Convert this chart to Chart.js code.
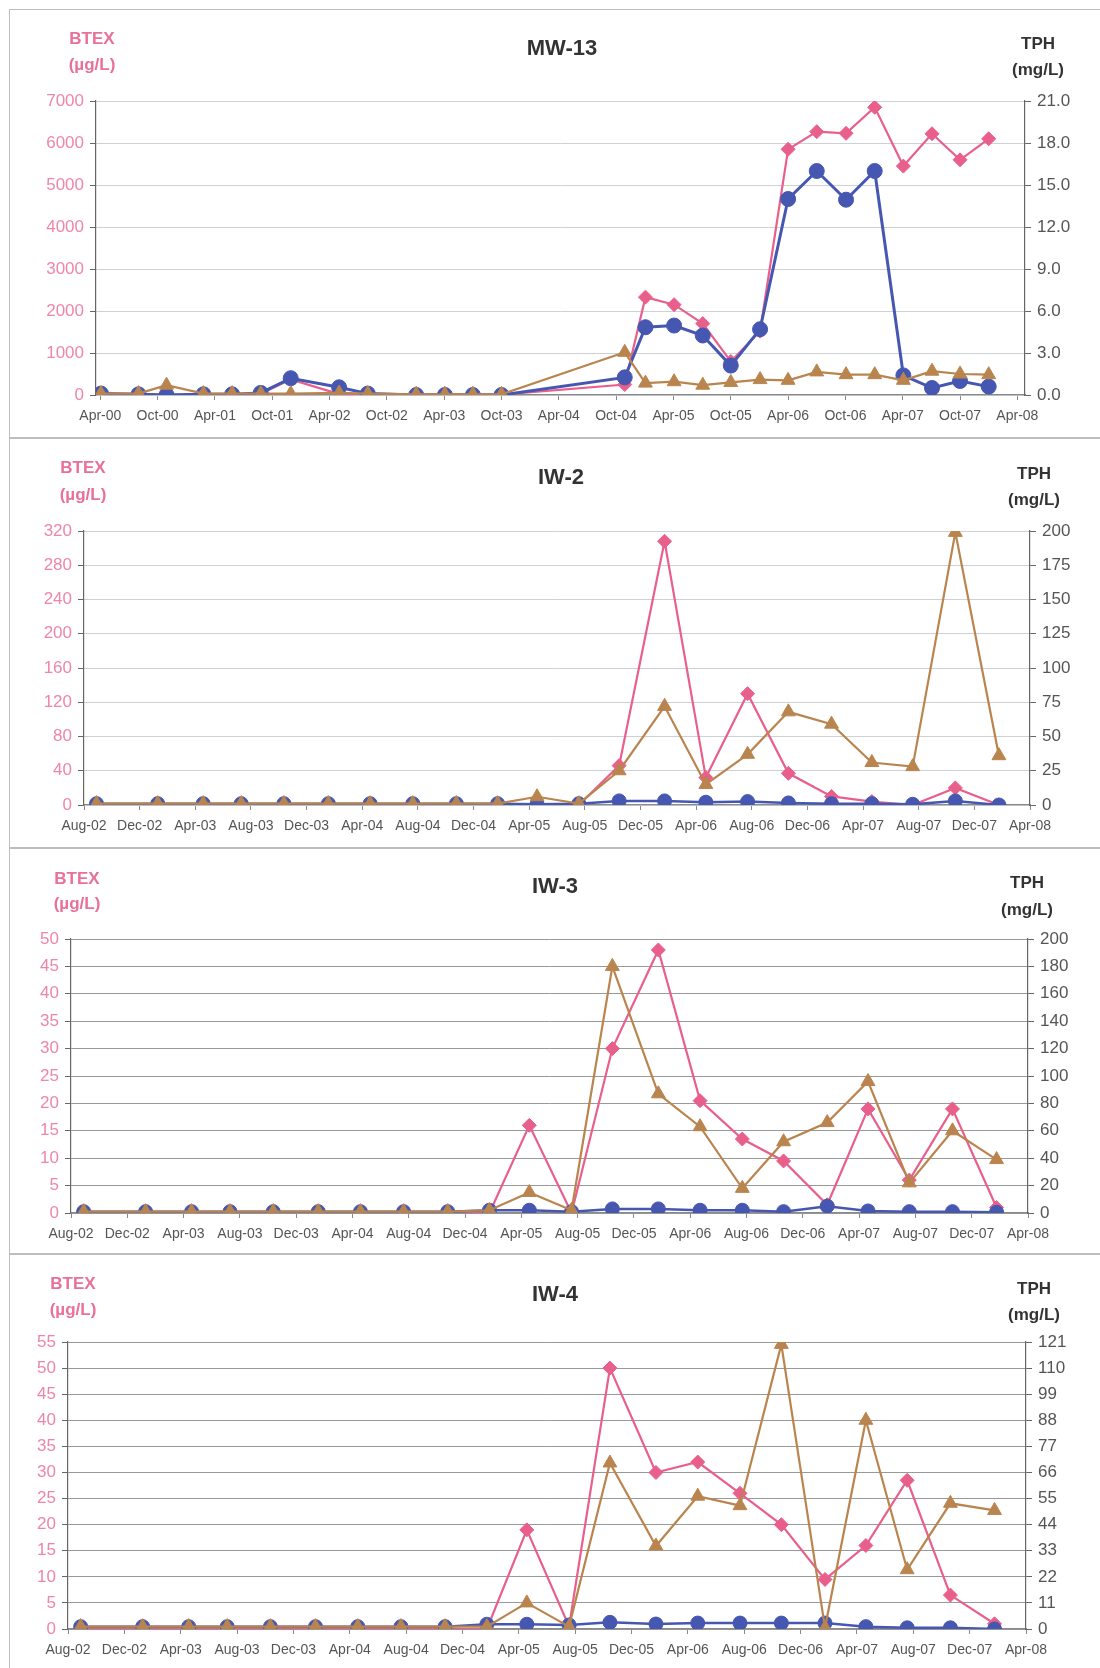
<!DOCTYPE html>
<html lang="en">
<head>
<meta charset="UTF-8">
<title>BTEX / TPH</title>
<script src="https://cdn.jsdelivr.net/npm/chart.js"></script>
<style>
  body { margin:0; background:#fff; width:1100px; height:1668px; position:relative; overflow:hidden;
         font-family:"Liberation Sans", Arial, sans-serif; }
  .box { position:absolute; left:9px; width:1100px; border:1.5px solid #bdbdbd; box-sizing:border-box; }
  canvas { position:absolute; left:0; }
  .lbl { position:absolute; transform:translate(-50%,-50%); font-weight:bold; white-space:nowrap; }
  .ttl { font-size:22px; color:#333; }
  .btex { font-size:17px; color:#E8709A; }
  .tph { font-size:17px; color:#333; }
</style>
</head>
<body>
<script>
    // sample dates
    var mwDates = ["2000-04-03","2000-08-01","2000-10-29","2001-02-25","2001-05-25","2001-08-25","2001-11-29",
        "2002-05-01","2002-08-01","2003-01-03","2003-04-03","2003-07-01","2003-10-01","2004-10-28",
        "2005-01-03","2005-04-03","2005-07-03","2005-10-01","2006-01-03","2006-04-01","2006-07-01",
        "2006-10-03","2007-01-03","2007-04-03","2007-07-03","2007-10-01","2008-01-01"]
    var iwDates = ["2002-08-28","2003-01-10","2003-04-18","2003-07-10","2003-10-12","2004-01-18",
        "2004-04-18","2004-07-20","2004-10-24","2005-01-23","2005-04-18","2005-07-18","2005-10-15",
        "2006-01-23","2006-04-22","2006-07-22","2006-10-20","2007-01-23","2007-04-20","2007-07-18",
        "2007-10-20","2008-01-24"]

    // x axis labels
    var mwTicks = ["Apr-00","Oct-00","Apr-01","Oct-01","Apr-02","Oct-02","Apr-03","Oct-03","Apr-04",
        "Oct-04","Apr-05","Oct-05","Apr-06","Oct-06","Apr-07","Oct-07","Apr-08"]
    var iwTicks = ["Aug-02","Dec-02","Apr-03","Aug-03","Dec-03","Apr-04","Aug-04","Dec-04","Apr-05",
        "Aug-05","Dec-05","Apr-06","Aug-06","Dec-06","Apr-07","Aug-07","Dec-07","Apr-08"]

    // MW-13  (BTEX ug/L, TPH mg/L)
    var mw13Btex = [20,10,10,10,10,30,370,20,20,10,10,10,10,250,2330,2150,1700,800,1520,
        5850,6270,6230,6850,5450,6220,5600,6100]
    var mw13Gro = [0.1,0.05,0,0.05,0.05,0.15,1.2,0.55,0.1,0,0,0,0,1.26,4.84,4.96,4.25,2.1,4.7,
        14.0,16.0,13.95,16.0,1.4,0.5,1.0,0.6]
    var mw13Dro = [0.1,0.1,0.7,0.1,0.1,0.1,0.1,0.15,0.1,0.05,0.05,0.05,0.05,3.05,0.85,0.95,0.7,0.9,
        1.1,1.05,1.65,1.45,1.45,1.05,1.7,1.5,1.45]

    // IW-2
    var iw2Btex = [1,0,0,0,0,0,0,0,0,0,0,0,46,308,32,130,37,10,4,0,20,0]
    var iw2Gro = [1,1,1,1,1,1,1,1,1,1,0.5,1,3,3,2,2.5,1.5,1,1,0.5,3,0]
    var iw2Dro = [1,1,1,1,1,1,1,1,1,1,6,1,25,72,15,37,68,59,31,28,199,36]

    // IW-3
    var iw3Btex = [0.2,0,0,0,0,0,0,0,0,0,16,0,30,48,20.5,13.5,9.5,1.5,19,6,19,1]
    var iw3Gro = [1,1,1,1,1,1,1,1,1,2,2,1,3,3,2,2,1,5,1.5,1,1,0.5]
    var iw3Dro = [1,1,1,1,1,1,1,1,1,2,15,2,180,87,63,18,52,66,96,22,60,39]

    // IW-4
    var iw4Btex = [0,0,0,0,0,0,0,0,0,0,19,0.5,50,30,32,26,20,9.5,16,28.5,6.5,1]
    var iw4Gro = [1,1,1,1,1,1,1,1,1,2,2,1.7,2.8,2.1,2.5,2.5,2.5,2.5,1,0.5,0.5,0]
    var iw4Dro = [1,1,1,1,1,1,1,1,1,1,11,1,70,35,56,52,120,0.5,88,25,53,50]

    var months = ["Jan","Feb","Mar","Apr","May","Jun","Jul","Aug","Sep","Oct","Nov","Dec"]
    function tickPos(lbl) { return +lbl.slice(4) * 12 + months.indexOf(lbl.slice(0, 3)) }
    function datePos(s) { var p = s.split("-"); return (p[0] - 2000) * 12 + (p[1] - 1) + (p[2] - 1) / 30 }
    function series(dates, vals) { return dates.map(function (d, i) { return {x: datePos(d), y: vals[i]} }) }

    var PINK = '#E95F8C', BLUE = '#4557B0', BROWN = '#BA844E'

    var panels = [
        {name:'MW-13', top:9, h:429, plotLeft:96, plotRight:1025, plotTop:101, plotBottom:395,
         dates:mwDates, ticks:mwTicks, xMin:2.55, xMax:99.8, btex:mw13Btex, gro:mw13Gro, dro:mw13Dro,
         lMax:7000, lStep:1000, rMax:21, rStep:3, rFix:1, grid:'#cdd0d6', r:7.5, bw:3,
         ttl:[562,48], bt:[92,39,65], tp:[1038,44,70]},
        {name:'IW-2', top:437, h:411, plotLeft:84, plotRight:1030, plotTop:531, plotBottom:805,
         dates:iwDates, ticks:iwTicks, xMin:31, xMax:99, btex:iw2Btex, gro:iw2Gro, dro:iw2Dro,
         lMax:320, lStep:40, rMax:200, rStep:25, rFix:0, grid:'#cdd0d6', r:7, bw:2.5,
         ttl:[561,477], bt:[83,468,495], tp:[1034,474,500]},
        {name:'IW-3', top:847, h:407, plotLeft:71, plotRight:1028, plotTop:939, plotBottom:1213,
         dates:iwDates, ticks:iwTicks, xMin:31, xMax:99, btex:iw3Btex, gro:iw3Gro, dro:iw3Dro,
         lMax:50, lStep:5, rMax:200, rStep:20, rFix:0, grid:'#999999', r:7, bw:2.5,
         ttl:[555,886], bt:[77,879,904], tp:[1027,883,910]},
        {name:'IW-4', top:1253, h:415, plotLeft:68, plotRight:1026, plotTop:1342, plotBottom:1629,
         dates:iwDates, ticks:iwTicks, xMin:31, xMax:99, btex:iw4Btex, gro:iw4Gro, dro:iw4Dro,
         lMax:55, lStep:5, rMax:121, rStep:11, rFix:0, grid:'#999999', r:7, bw:2.5,
         ttl:[555,1294], bt:[73,1284,1310], tp:[1034,1289,1315]}
    ]

    function label(txt, cls, x, y) {
        var d = document.createElement('div')
        d.className = 'lbl ' + cls
        d.textContent = txt
        d.style.left = x + 'px'
        d.style.top = y + 'px'
        document.body.appendChild(d)
    }

    function drawPanel(p) {
        var box = document.createElement('div')
        box.className = 'box'
        box.style.top = p.top + 'px'
        box.style.height = (p.h + 1) + 'px'
        document.body.appendChild(box)

        var cv = document.createElement('canvas')
        cv.width = 1100
        cv.height = p.h
        cv.style.top = p.top + 'px'
        document.body.appendChild(cv)

        label(p.name, 'ttl', p.ttl[0], p.ttl[1])
        label('BTEX', 'btex', p.bt[0], p.bt[1])
        label('(\u00b5g/L)', 'btex', p.bt[0], p.bt[2])
        label('TPH', 'tph', p.tp[0], p.tp[1])
        label('(mg/L)', 'tph', p.tp[0], p.tp[2])

        var tickVals = p.ticks.map(tickPos)
        var font = {family: '"Liberation Sans", Arial, sans-serif'}

        new Chart(cv, {
            type: 'line',
            data: {
                datasets: [
                    {label: 'BTEX', data: series(p.dates, p.btex), yAxisID: 'yL', order: 3,
                     borderColor: PINK, backgroundColor: PINK, borderWidth: 2.2,
                     pointStyle: 'rectRot', pointRadius: 7, pointBorderWidth: 1},
                    {label: 'TPH-GRO', data: series(p.dates, p.gro), yAxisID: 'yR', order: 2,
                     borderColor: BLUE, backgroundColor: BLUE, borderWidth: p.bw,
                     pointStyle: 'circle', pointRadius: p.r, pointBorderWidth: 1},
                    {label: 'TPH-DRO', data: series(p.dates, p.dro), yAxisID: 'yR', order: 1,
                     borderColor: BROWN, backgroundColor: BROWN, borderWidth: 2.2,
                     pointStyle: 'triangle', pointRadius: 8, pointBorderWidth: 1}
                ]
            },
            options: {
                responsive: false,
                animation: false,
                events: [],
                layout: {autoPadding: false, padding: {top: p.plotTop - p.top, left: 0, right: 0, bottom: 0}},
                plugins: {legend: {display: false}, tooltip: {enabled: false}},
                elements: {line: {tension: 0}},
                scales: {
                    x: {
                        type: 'linear', min: p.xMin, max: p.xMax,
                        afterBuildTicks: function (s) { s.ticks = tickVals.map(function (v) { return {value: v} }) },
                        afterFit: function (s) { s.height = p.h - (p.plotBottom - p.top) },
                        ticks: {autoSkip: false, maxRotation: 0, padding: 8, color: '#555',
                                font: Object.assign({size: 14}, font),
                                callback: function (v, i) { return p.ticks[i] }},
                        grid: {drawOnChartArea: false, tickLength: 5, color: '#8a8a8a'},
                        border: {color: '#8a8a8a', width: 1.2}
                    },
                    yL: {
                        position: 'left', min: 0, max: p.lMax,
                        afterFit: function (s) { s.width = p.plotLeft },
                        ticks: {stepSize: p.lStep, padding: 6, color: '#EE86A8',
                                font: Object.assign({size: 17}, font),
                                callback: function (v) { return String(v) }},
                        grid: {color: p.grid, lineWidth: 1, tickLength: 6, tickColor: '#666'},
                        border: {color: '#666', width: 1.2}
                    },
                    yR: {
                        position: 'right', min: 0, max: p.rMax,
                        afterFit: function (s) { s.width = 1100 - p.plotRight },
                        ticks: {stepSize: p.rStep, padding: 6, color: '#555',
                                font: Object.assign({size: 17}, font),
                                callback: function (v) { return v.toFixed(p.rFix) }},
                        grid: {drawOnChartArea: false, tickLength: 6, tickColor: '#666'},
                        border: {color: '#666', width: 1.2}
                    }
                }
            }
        })
    }

    panels.forEach(drawPanel)
</script>
</body>
</html>
